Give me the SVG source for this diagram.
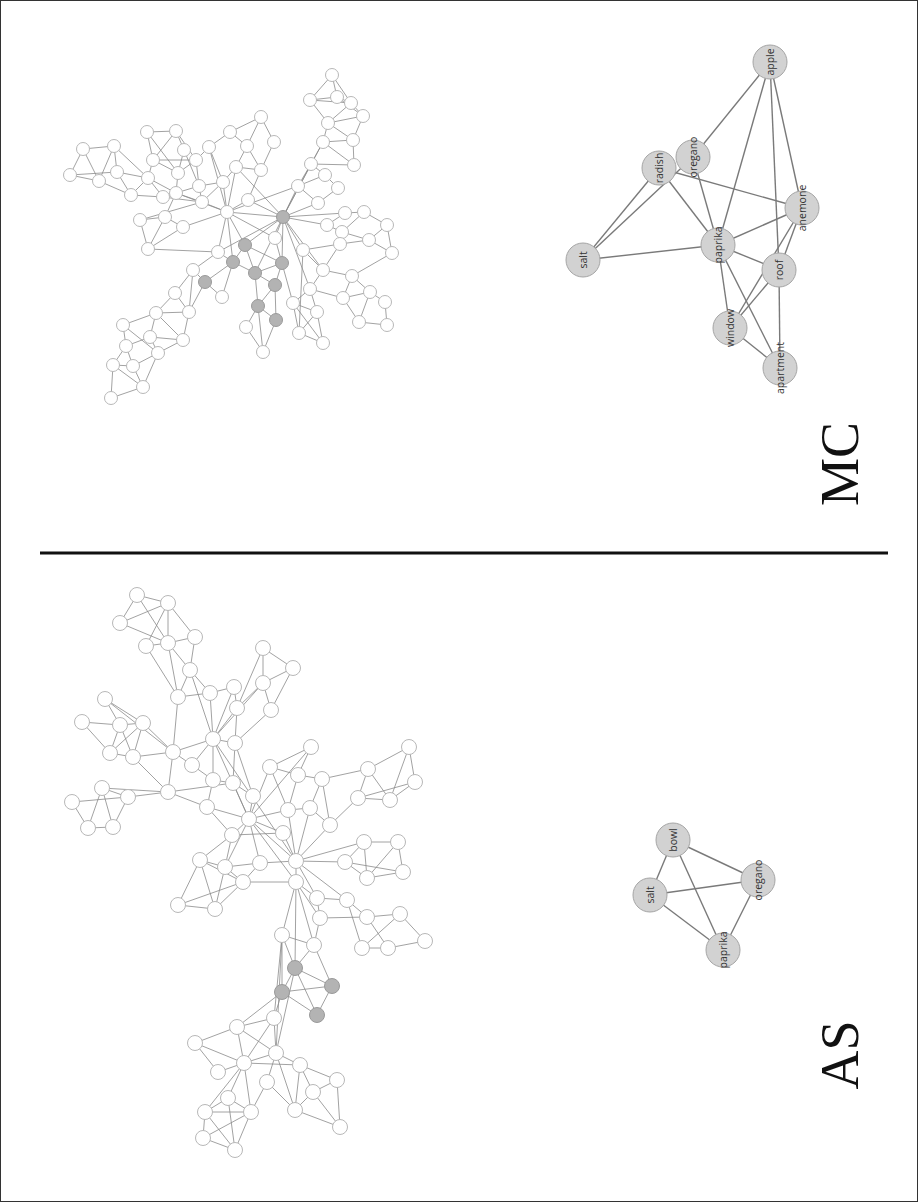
<svg xmlns="http://www.w3.org/2000/svg" width="918" height="1202" viewBox="0 0 918 1202">
<style>
.bg{fill:#fff}
.frame{fill:none;stroke:#333;stroke-width:1}
.sep{stroke:#111;stroke-width:3}
.be{fill:none;stroke:#8a8a8a;stroke-width:0.8}
.bn{fill:#fff;stroke:#b8b8b8;stroke-width:1}
.bg2{fill:#b3b3b3;stroke:#9a9a9a;stroke-width:1}
.se{stroke:#7a7a7a;stroke-width:1.4}
.sn{fill:#d2d2d2;stroke:#a5a5a5;stroke-width:1}
.sl{font-family:"Open Sans","Liberation Sans",sans-serif;font-size:10.5px;fill:#333;text-anchor:middle;dominant-baseline:central}
.big{font-family:"Liberation Serif",serif;font-size:54px;fill:#111;text-anchor:middle}
</style>
<rect class="bg" x="0" y="0" width="918" height="1202"/>
<rect class="frame" x="0.5" y="0.5" width="917" height="1201"/>
<line class="sep" x1="40" y1="553" x2="888" y2="553"/>

<g id="connectors">
<path id="mc-big-edges" class="be" d="M83 149L114 146M83 149L70 175M83 149L99 181M70 175L99 181M70 175L117 172M114 146L117 172M114 146L99 181M99 181L131 195M117 172L131 195M117 172L148 178M131 195L148 178M131 195L163 197M114 146L148 178
M147 132L176 131M147 132L153 160M147 132L178 173M176 131L184 150M176 131L153 160M176 131L196 160M153 160L178 173M153 160L196 160M153 160L148 178M184 150L178 173M184 150L199 186M196 160L178 173M196 160L209 147M196 160L199 186M178 173L176 193M148 178L163 197M163 197L176 193M176 193L199 186M176 193L202 202M199 186L202 202M199 186L223 182M176 193L227 212M163 197L202 202M148 178L176 193
M140 220L165 217M140 220L148 249M165 217L183 227M165 217L148 249M183 227L227 212M183 227L148 249M140 220L202 202M165 217L176 193M148 249L218 252
M209 147L223 182M209 147L230 132M230 132L247 146M230 132L261 117M261 117L274 142M261 117L247 146M247 146L261 170M247 146L236 167M274 142L261 170M236 167L261 170M236 167L223 182M223 182L227 212M223 182L202 202M236 167L227 212M261 170L248 200M248 200L227 212M248 200L283 217M236 167L283 217
M227 212L283 217M227 212L245 245M227 212L218 252M227 212L202 202M227 212L233 262M227 212L275 238M227 212L209 147M227 212L298 186
M332 75L310 100M332 75L337 97M332 75L351 103M310 100L337 97M310 100L328 123M310 100L351 103M337 97L351 103M337 97L363 116M351 103L363 116M351 103L328 123M363 116L328 123M363 116L353 140M328 123L323 142M328 123L353 140M323 142L353 140M323 142L311 164M323 142L354 165M353 140L354 165M311 164L325 175M311 164L354 165M311 164L298 186M325 175L338 188M325 175L298 186M338 188L318 203M298 186L318 203M298 186L283 217M318 203L283 217M311 164L283 217M323 142L283 217
M283 217L303 250M283 217L275 238M283 217L245 245M283 217L282 263M283 217L327 225M283 217L345 213M283 217L323 270M283 217L310 289M283 217L255 273M283 217L218 252
M345 213L364 212M345 213L327 225M364 212L387 225M364 212L342 232M327 225L342 232M342 232L369 240M387 225L369 240M387 225L392 253M369 240L392 253M369 240L340 244M340 244L303 250M340 244L323 270M303 250L323 270M392 253L352 276M323 270L352 276M352 276L370 292M352 276L343 298M323 270L310 289M310 289L343 298M310 289L293 303M310 289L317 312M343 298L370 292M370 292L385 302M343 298L359 322M370 292L359 322M385 302L387 325M359 322L387 325M293 303L317 312M293 303L299 333M317 312L299 333M317 312L323 343M299 333L323 343M293 303L323 343M275 238L293 303M303 250L299 333
M245 245L233 262M245 245L255 273M245 245L282 263M233 262L255 273M233 262L205 282M282 263L255 273M282 263L275 285M255 273L275 285M255 273L258 306M275 285L258 306M275 285L276 320M258 306L276 320M258 306L246 327M276 320L263 352M246 327L263 352M258 306L263 352M233 262L222 297M205 282L222 297M205 282L193 270M218 252L193 270M218 252L233 262
M193 270L175 293M193 270L189 312M175 293L189 312M175 293L156 313M205 282L189 312M189 312L156 313M156 313L123 325M156 313L150 337M156 313L183 340M189 312L183 340M123 325L126 346M123 325L158 353M150 337L126 346M150 337L183 340M150 337L158 353M126 346L113 365M126 346L133 366M158 353L133 366M113 365L133 366M113 365L111 398M113 365L143 387M133 366L143 387M143 387L111 398M158 353L143 387M183 340L158 353"/>
<path id="as-big-edges" class="be" d="M137 595L168 603M137 595L120 623M137 595L168 643M168 603L120 623M168 603L168 643M168 603L195 637M168 603L146 646M120 623L168 643M146 646L168 643M146 646L178 697M168 643L195 637M168 643L190 670M195 637L190 670M190 670L178 697M190 670L210 693M178 697L210 693M168 643L178 697M190 670L213 739M178 697L173 752
M105 699L120 725M105 699L143 723M82 722L120 725M82 722L110 753M120 725L143 723M120 725L110 753M120 725L133 757M143 723L133 757M143 723L173 752M110 753L133 757M133 757L173 752M143 723L110 753M173 752L192 765M173 752L213 739M173 752L168 792M133 757L168 792M105 699L173 752
M102 788L128 797M102 788L88 828M102 788L113 827M72 802L128 797M72 802L88 828M128 797L168 792M128 797L113 827M88 828L113 827M168 792L207 807M168 792L233 783M102 788L168 792
M263 648L293 668M263 648L263 683M263 648L237 708M293 668L263 683M293 668L271 710M263 683L271 710M263 683L237 708M234 687L213 739M234 687L237 708M210 693L234 687M210 693L213 739M237 708L213 739M237 708L235 743M271 710L235 743M263 683L213 739M213 739L235 743M213 739L213 780M213 739L249 819M235 743L233 783M235 743L253 796M213 780L233 783M213 780L207 807M233 783L253 796M233 783L249 819M207 807L249 819M207 807L232 835M253 796L249 819M249 819L283 833M249 819L270 767M249 819L311 747M249 819L296 861M249 819L296 882M249 819L260 863M249 819L232 835M249 819L288 810M249 819L225 867M213 739L296 861M192 765L213 739M192 765L213 780
M311 747L270 767M311 747L298 775M270 767L298 775M270 767L288 810M298 775L288 810M298 775L322 779M322 779L368 769M322 779L330 825M322 779L310 808M368 769L409 747M368 769L358 798M368 769L390 800M409 747L415 782M409 747L390 800M415 782L390 800M415 782L358 798M358 798L390 800M358 798L330 825M288 810L310 808M310 808L330 825M288 810L296 861M310 808L296 861M330 825L296 861
M232 835L200 860M232 835L225 867M232 835L283 833M200 860L225 867M200 860L178 905M200 860L215 909M200 860L243 882M225 867L243 882M225 867L215 909M225 867L260 863M260 863L296 861M260 863L243 882M243 882L296 882M178 905L215 909M178 905L243 882M215 909L243 882M283 833L296 861M296 861L296 882M296 861L345 862M296 861L364 842M296 861L317 898M296 861L347 900M345 862L364 842M345 862L367 878M345 862L403 872M364 842L398 842M364 842L367 878M398 842L403 872M398 842L367 878M367 878L403 872M296 882L317 898M296 882L320 918M296 882L282 935M296 882L314 945M317 898L347 900M317 898L320 918M347 900L367 917M347 900L362 948M320 918L367 917M320 918L314 945M367 917L400 914M367 917L388 948M400 914L425 941M400 914L362 948M388 948L425 941M362 948L388 948M282 935L314 945M282 935L295 968M314 945L295 968M296 882L295 968M282 935L282 992M282 935L274 1018
M295 968L332 986M295 968L282 992M295 968L317 1015M282 992L332 986M282 992L317 1015M332 986L317 1015M314 945L332 986M282 992L274 1018M282 992L237 1027M295 968L276 1053M282 935L276 1053
M274 1018L237 1027M274 1018L276 1053M274 1018L244 1063M237 1027L195 1043M237 1027L244 1063M237 1027L276 1053M195 1043L244 1063M195 1043L218 1072M244 1063L218 1072M244 1063L276 1053M244 1063L300 1065M276 1053L300 1065M276 1053L267 1082M276 1053L295 1110M300 1065L337 1080M300 1065L313 1092M300 1065L295 1110M337 1080L313 1092M337 1080L340 1127M313 1092L340 1127M295 1110L340 1127M295 1110L313 1092M267 1082L251 1112M267 1082L295 1110M244 1063L251 1112M244 1063L228 1098M244 1063L205 1112M228 1098L205 1112M228 1098L251 1112M205 1112L251 1112M205 1112L203 1138M205 1112L235 1150M228 1098L235 1150M251 1112L235 1150M203 1138L235 1150M251 1112L203 1138"/>
<g id="mc-small-edges">
<line class="se" x1="770" y1="62" x2="693" y2="157"/>
<line class="se" x1="770" y1="62" x2="718" y2="245"/>
<line class="se" x1="770" y1="62" x2="779" y2="270"/>
<line class="se" x1="770" y1="62" x2="802" y2="208"/>
<line class="se" x1="583" y1="260" x2="659" y2="168"/>
<line class="se" x1="583" y1="260" x2="693" y2="157"/>
<line class="se" x1="583" y1="260" x2="718" y2="245"/>
<line class="se" x1="659" y1="168" x2="802" y2="208"/>
<line class="se" x1="659" y1="168" x2="718" y2="245"/>
<line class="se" x1="693" y1="157" x2="718" y2="245"/>
<line class="se" x1="718" y1="245" x2="802" y2="208"/>
<line class="se" x1="718" y1="245" x2="779" y2="270"/>
<line class="se" x1="718" y1="245" x2="730" y2="328"/>
<line class="se" x1="718" y1="245" x2="780" y2="368"/>
<line class="se" x1="802" y1="208" x2="779" y2="270"/>
<line class="se" x1="802" y1="208" x2="730" y2="328"/>
<line class="se" x1="779" y1="270" x2="730" y2="328"/>
<line class="se" x1="779" y1="270" x2="780" y2="368"/>
<line class="se" x1="730" y1="328" x2="780" y2="368"/>
</g>
<g id="as-small-edges">
<line class="se" x1="673" y1="840" x2="650" y2="895"/>
<line class="se" x1="673" y1="840" x2="758" y2="880"/>
<line class="se" x1="673" y1="840" x2="723" y2="950"/>
<line class="se" x1="650" y1="895" x2="758" y2="880"/>
<line class="se" x1="650" y1="895" x2="723" y2="950"/>
<line class="se" x1="758" y1="880" x2="723" y2="950"/>
</g>
</g>

<g id="mc-big-nodes">
<circle class="bn" cx="83" cy="149" r="6.5"/><circle class="bn" cx="114" cy="146" r="6.5"/><circle class="bn" cx="70" cy="175" r="6.5"/><circle class="bn" cx="99" cy="181" r="6.5"/><circle class="bn" cx="117" cy="172" r="6.5"/><circle class="bn" cx="131" cy="195" r="6.5"/>
<circle class="bn" cx="147" cy="132" r="6.5"/><circle class="bn" cx="176" cy="131" r="6.5"/><circle class="bn" cx="153" cy="160" r="6.5"/><circle class="bn" cx="184" cy="150" r="6.5"/><circle class="bn" cx="148" cy="178" r="6.5"/><circle class="bn" cx="178" cy="173" r="6.5"/><circle class="bn" cx="163" cy="197" r="6.5"/><circle class="bn" cx="176" cy="193" r="6.5"/><circle class="bn" cx="196" cy="160" r="6.5"/><circle class="bn" cx="209" cy="147" r="6.5"/><circle class="bn" cx="199" cy="186" r="6.5"/><circle class="bn" cx="202" cy="202" r="6.5"/>
<circle class="bn" cx="140" cy="220" r="6.5"/><circle class="bn" cx="165" cy="217" r="6.5"/><circle class="bn" cx="183" cy="227" r="6.5"/><circle class="bn" cx="148" cy="249" r="6.5"/>
<circle class="bn" cx="227" cy="212" r="6.5"/><circle class="bn" cx="223" cy="182" r="6.5"/><circle class="bn" cx="230" cy="132" r="6.5"/><circle class="bn" cx="218" cy="252" r="6.5"/>
<circle class="bn" cx="261" cy="117" r="6.5"/><circle class="bn" cx="247" cy="146" r="6.5"/><circle class="bn" cx="274" cy="142" r="6.5"/><circle class="bn" cx="236" cy="167" r="6.5"/><circle class="bn" cx="261" cy="170" r="6.5"/><circle class="bn" cx="248" cy="200" r="6.5"/>
<circle class="bn" cx="332" cy="75" r="6.5"/><circle class="bn" cx="310" cy="100" r="6.5"/><circle class="bn" cx="337" cy="97" r="6.5"/><circle class="bn" cx="351" cy="103" r="6.5"/><circle class="bn" cx="363" cy="116" r="6.5"/><circle class="bn" cx="328" cy="123" r="6.5"/><circle class="bn" cx="323" cy="142" r="6.5"/><circle class="bn" cx="353" cy="140" r="6.5"/><circle class="bn" cx="311" cy="164" r="6.5"/><circle class="bn" cx="354" cy="165" r="6.5"/><circle class="bn" cx="325" cy="175" r="6.5"/><circle class="bn" cx="298" cy="186" r="6.5"/><circle class="bn" cx="338" cy="188" r="6.5"/><circle class="bn" cx="318" cy="203" r="6.5"/>
<circle class="bn" cx="345" cy="213" r="6.5"/><circle class="bn" cx="364" cy="212" r="6.5"/><circle class="bn" cx="327" cy="225" r="6.5"/><circle class="bn" cx="342" cy="232" r="6.5"/><circle class="bn" cx="387" cy="225" r="6.5"/><circle class="bn" cx="369" cy="240" r="6.5"/><circle class="bn" cx="340" cy="244" r="6.5"/><circle class="bn" cx="392" cy="253" r="6.5"/><circle class="bn" cx="303" cy="250" r="6.5"/><circle class="bn" cx="275" cy="238" r="6.5"/><circle class="bn" cx="323" cy="270" r="6.5"/><circle class="bn" cx="352" cy="276" r="6.5"/><circle class="bn" cx="310" cy="289" r="6.5"/><circle class="bn" cx="343" cy="298" r="6.5"/><circle class="bn" cx="370" cy="292" r="6.5"/><circle class="bn" cx="385" cy="302" r="6.5"/><circle class="bn" cx="293" cy="303" r="6.5"/><circle class="bn" cx="317" cy="312" r="6.5"/><circle class="bn" cx="359" cy="322" r="6.5"/><circle class="bn" cx="387" cy="325" r="6.5"/><circle class="bn" cx="299" cy="333" r="6.5"/><circle class="bn" cx="323" cy="343" r="6.5"/>
<circle class="bn" cx="246" cy="327" r="6.5"/><circle class="bn" cx="263" cy="352" r="6.5"/><circle class="bn" cx="193" cy="270" r="6.5"/><circle class="bn" cx="222" cy="297" r="6.5"/><circle class="bn" cx="175" cy="293" r="6.5"/><circle class="bn" cx="189" cy="312" r="6.5"/><circle class="bn" cx="156" cy="313" r="6.5"/><circle class="bn" cx="123" cy="325" r="6.5"/><circle class="bn" cx="150" cy="337" r="6.5"/><circle class="bn" cx="183" cy="340" r="6.5"/><circle class="bn" cx="126" cy="346" r="6.5"/><circle class="bn" cx="158" cy="353" r="6.5"/><circle class="bn" cx="113" cy="365" r="6.5"/><circle class="bn" cx="133" cy="366" r="6.5"/><circle class="bn" cx="143" cy="387" r="6.5"/><circle class="bn" cx="111" cy="398" r="6.5"/>
<circle class="bg2" cx="283" cy="217" r="6.5"/><circle class="bg2" cx="245" cy="245" r="6.5"/><circle class="bg2" cx="233" cy="262" r="6.5"/><circle class="bg2" cx="205" cy="282" r="6.5"/><circle class="bg2" cx="282" cy="263" r="6.5"/><circle class="bg2" cx="255" cy="273" r="6.5"/><circle class="bg2" cx="275" cy="285" r="6.5"/><circle class="bg2" cx="258" cy="306" r="6.5"/><circle class="bg2" cx="276" cy="320" r="6.5"/>
</g>

<g id="as-big-nodes">
<circle class="bn" cx="137" cy="595" r="7.5"/><circle class="bn" cx="168" cy="603" r="7.5"/><circle class="bn" cx="120" cy="623" r="7.5"/><circle class="bn" cx="195" cy="637" r="7.5"/><circle class="bn" cx="146" cy="646" r="7.5"/><circle class="bn" cx="168" cy="643" r="7.5"/><circle class="bn" cx="190" cy="670" r="7.5"/><circle class="bn" cx="178" cy="697" r="7.5"/><circle class="bn" cx="210" cy="693" r="7.5"/>
<circle class="bn" cx="105" cy="699" r="7.5"/><circle class="bn" cx="82" cy="722" r="7.5"/><circle class="bn" cx="120" cy="725" r="7.5"/><circle class="bn" cx="143" cy="723" r="7.5"/><circle class="bn" cx="110" cy="753" r="7.5"/><circle class="bn" cx="133" cy="757" r="7.5"/><circle class="bn" cx="173" cy="752" r="7.5"/><circle class="bn" cx="192" cy="765" r="7.5"/>
<circle class="bn" cx="102" cy="788" r="7.5"/><circle class="bn" cx="128" cy="797" r="7.5"/><circle class="bn" cx="168" cy="792" r="7.5"/><circle class="bn" cx="72" cy="802" r="7.5"/><circle class="bn" cx="88" cy="828" r="7.5"/><circle class="bn" cx="113" cy="827" r="7.5"/>
<circle class="bn" cx="234" cy="687" r="7.5"/><circle class="bn" cx="237" cy="708" r="7.5"/><circle class="bn" cx="213" cy="739" r="7.5"/><circle class="bn" cx="235" cy="743" r="7.5"/><circle class="bn" cx="213" cy="780" r="7.5"/><circle class="bn" cx="233" cy="783" r="7.5"/><circle class="bn" cx="207" cy="807" r="7.5"/><circle class="bn" cx="263" cy="648" r="7.5"/><circle class="bn" cx="293" cy="668" r="7.5"/><circle class="bn" cx="263" cy="683" r="7.5"/><circle class="bn" cx="271" cy="710" r="7.5"/><circle class="bn" cx="249" cy="819" r="7.5"/><circle class="bn" cx="253" cy="796" r="7.5"/><circle class="bn" cx="232" cy="835" r="7.5"/><circle class="bn" cx="283" cy="833" r="7.5"/>
<circle class="bn" cx="311" cy="747" r="7.5"/><circle class="bn" cx="270" cy="767" r="7.5"/><circle class="bn" cx="298" cy="775" r="7.5"/><circle class="bn" cx="322" cy="779" r="7.5"/><circle class="bn" cx="368" cy="769" r="7.5"/><circle class="bn" cx="409" cy="747" r="7.5"/><circle class="bn" cx="415" cy="782" r="7.5"/><circle class="bn" cx="358" cy="798" r="7.5"/><circle class="bn" cx="390" cy="800" r="7.5"/><circle class="bn" cx="288" cy="810" r="7.5"/><circle class="bn" cx="310" cy="808" r="7.5"/><circle class="bn" cx="330" cy="825" r="7.5"/>
<circle class="bn" cx="200" cy="860" r="7.5"/><circle class="bn" cx="225" cy="867" r="7.5"/><circle class="bn" cx="260" cy="863" r="7.5"/><circle class="bn" cx="296" cy="861" r="7.5"/><circle class="bn" cx="345" cy="862" r="7.5"/><circle class="bn" cx="364" cy="842" r="7.5"/><circle class="bn" cx="398" cy="842" r="7.5"/><circle class="bn" cx="403" cy="872" r="7.5"/><circle class="bn" cx="367" cy="878" r="7.5"/><circle class="bn" cx="243" cy="882" r="7.5"/><circle class="bn" cx="296" cy="882" r="7.5"/><circle class="bn" cx="178" cy="905" r="7.5"/><circle class="bn" cx="215" cy="909" r="7.5"/><circle class="bn" cx="317" cy="898" r="7.5"/><circle class="bn" cx="347" cy="900" r="7.5"/><circle class="bn" cx="320" cy="918" r="7.5"/><circle class="bn" cx="367" cy="917" r="7.5"/><circle class="bn" cx="400" cy="914" r="7.5"/><circle class="bn" cx="425" cy="941" r="7.5"/><circle class="bn" cx="282" cy="935" r="7.5"/><circle class="bn" cx="314" cy="945" r="7.5"/><circle class="bn" cx="362" cy="948" r="7.5"/><circle class="bn" cx="388" cy="948" r="7.5"/>
<circle class="bg2" cx="295" cy="968" r="7.5"/><circle class="bg2" cx="332" cy="986" r="7.5"/><circle class="bg2" cx="282" cy="992" r="7.5"/><circle class="bg2" cx="317" cy="1015" r="7.5"/>
<circle class="bn" cx="274" cy="1018" r="7.5"/><circle class="bn" cx="237" cy="1027" r="7.5"/><circle class="bn" cx="195" cy="1043" r="7.5"/><circle class="bn" cx="276" cy="1053" r="7.5"/><circle class="bn" cx="244" cy="1063" r="7.5"/><circle class="bn" cx="218" cy="1072" r="7.5"/><circle class="bn" cx="300" cy="1065" r="7.5"/><circle class="bn" cx="267" cy="1082" r="7.5"/><circle class="bn" cx="337" cy="1080" r="7.5"/><circle class="bn" cx="313" cy="1092" r="7.5"/><circle class="bn" cx="228" cy="1098" r="7.5"/><circle class="bn" cx="205" cy="1112" r="7.5"/><circle class="bn" cx="251" cy="1112" r="7.5"/><circle class="bn" cx="295" cy="1110" r="7.5"/><circle class="bn" cx="340" cy="1127" r="7.5"/><circle class="bn" cx="203" cy="1138" r="7.5"/><circle class="bn" cx="235" cy="1150" r="7.5"/>
</g>

<g id="mc-apple"><circle class="sn" cx="770" cy="62" r="17"/><text class="sl" transform="translate(770,62) rotate(-90)">apple</text></g>
<g id="mc-oregano"><circle class="sn" cx="693" cy="157" r="17"/><text class="sl" transform="translate(693,157) rotate(-90)">oregano</text></g>
<g id="mc-radish"><circle class="sn" cx="659" cy="168" r="17"/><text class="sl" transform="translate(659,168) rotate(-90)">radish</text></g>
<g id="mc-salt"><circle class="sn" cx="583" cy="260" r="17"/><text class="sl" transform="translate(583,260) rotate(-90)">salt</text></g>
<g id="mc-paprika"><circle class="sn" cx="718" cy="245" r="17"/><text class="sl" transform="translate(718,245) rotate(-90)">paprika</text></g>
<g id="mc-anemone"><circle class="sn" cx="802" cy="208" r="17"/><text class="sl" transform="translate(802,208) rotate(-90)">anemone</text></g>
<g id="mc-roof"><circle class="sn" cx="779" cy="270" r="17"/><text class="sl" transform="translate(779,270) rotate(-90)">roof</text></g>
<g id="mc-window"><circle class="sn" cx="730" cy="328" r="17"/><text class="sl" transform="translate(730,328) rotate(-90)">window</text></g>
<g id="mc-apartment"><circle class="sn" cx="780" cy="368" r="17"/><text class="sl" transform="translate(780,368) rotate(-90)">apartment</text></g>

<g id="as-bowl"><circle class="sn" cx="673" cy="840" r="17"/><text class="sl" transform="translate(673,840) rotate(-90)">bowl</text></g>
<g id="as-salt"><circle class="sn" cx="650" cy="895" r="17"/><text class="sl" transform="translate(650,895) rotate(-90)">salt</text></g>
<g id="as-oregano"><circle class="sn" cx="758" cy="880" r="17"/><text class="sl" transform="translate(758,880) rotate(-90)">oregano</text></g>
<g id="as-paprika"><circle class="sn" cx="723" cy="950" r="17"/><text class="sl" transform="translate(723,950) rotate(-90)">paprika</text></g>

<g id="label-mc"><text class="big" transform="translate(858,464) rotate(-90)">MC</text></g>
<g id="label-as"><text class="big" transform="translate(858,1055) rotate(-90)">AS</text></g>
</svg>
